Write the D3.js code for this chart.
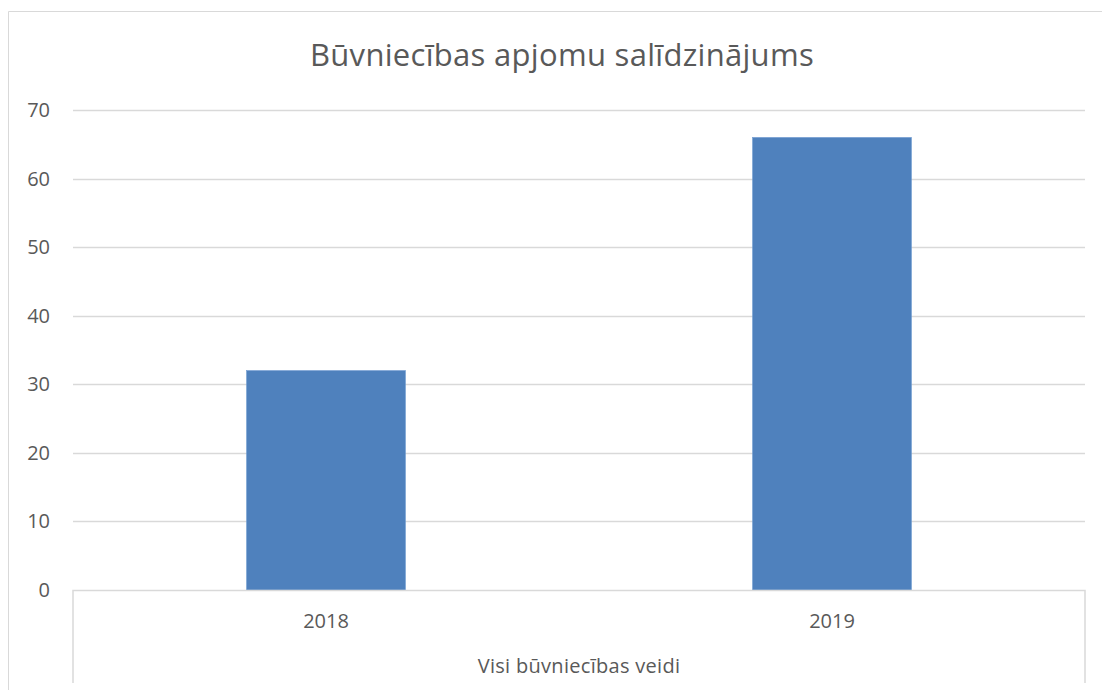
<!DOCTYPE html>
<html><head><meta charset="utf-8">
<script src="https://cdn.jsdelivr.net/npm/d3@7"></script>
<style>body{margin:0;background:#fff}svg{display:block}text{font-family:"Open Sans",sans-serif;fill:#595959}</style>
</head><body><svg id="c" width="1102" height="690"></svg>
<script>
const title = "Būvniecības apjomu salīdzinājums";
const categories = ["2018", "2019"];
const values = [32, 66];
const groupLabel = "Visi būvniecības veidi";
const yTicks = [0, 10, 20, 30, 40, 50, 60, 70];

(function () {
const svg = d3.select("#c");
const pL = 73, pR = 1085, pT = 110, pB = 590;
const x = d3.scaleBand().domain(categories).range([pL, pR]).padding(0);
const y = d3.scaleLinear().domain([0, 70]).range([pB, pT]);
const grid = "#d9d9d9";

// outer border (left/top)
svg.append("path").attr("d", "M8.5,690 V11.5 H1102").attr("fill", "none").attr("stroke", grid);

svg.append("text").attr("x", 562).attr("y", 66).attr("text-anchor", "middle")
  .style("font-size", "31px").style("letter-spacing", "0.3px").text(title);

// gridlines
svg.append("g").selectAll("line").data(yTicks.filter(d => d > 0)).join("line")
  .attr("x1", pL).attr("x2", pR).attr("y1", d => Math.round(y(d)) + 0.5).attr("y2", d => Math.round(y(d)) + 0.5)
  .attr("stroke", grid).attr("stroke-width", 1.5);

// y labels
svg.append("g").selectAll("text").data(yTicks).join("text")
  .attr("x", 50).attr("y", d => y(d) + 7).attr("text-anchor", "end")
  .style("font-size", "20px").text(d => d);

// bars
const bw = x.bandwidth() * 0.314;
svg.append("g").selectAll("rect").data(values).join("rect")
  .attr("x", (d, i) => x(categories[i]) + x.bandwidth() / 2 - bw / 2)
  .attr("width", bw)
  .attr("y", d => y(d)).attr("height", d => y(0) - y(d))
  .attr("fill", "#4f81bd").attr("stroke", "#6f9bd1").attr("stroke-width", 0.6);

// axis line and vertical dividers
svg.append("path").attr("d", `M${pL},683 V${pB + 0.5} H${pR} V683`)
  .attr("fill", "none").attr("stroke", grid).attr("stroke-width", 1.5);

svg.append("g").selectAll("text").data(categories).join("text")
  .attr("x", d => x(d) + x.bandwidth() / 2).attr("y", 628).attr("text-anchor", "middle")
  .style("font-size", "20px").text(d => d);

svg.append("text").attr("x", (pL + pR) / 2).attr("y", 673).attr("text-anchor", "middle")
  .style("font-size", "20px").style("letter-spacing", "0.3px").text(groupLabel);
})();
</script></body></html>
